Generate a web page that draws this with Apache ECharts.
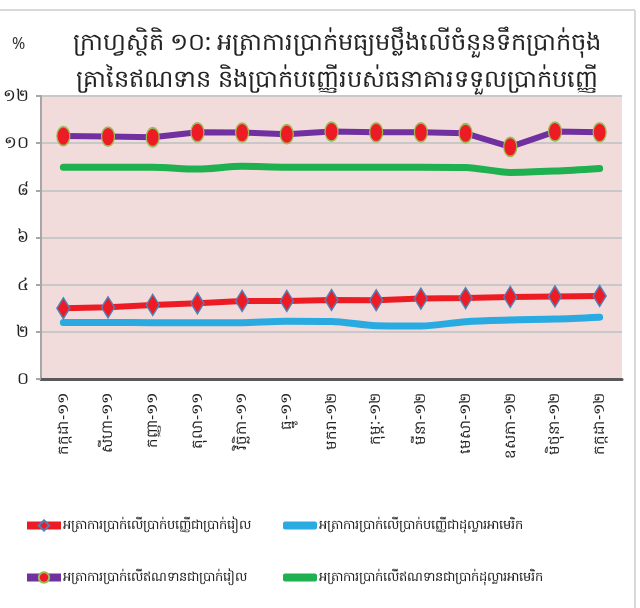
<!DOCTYPE html>
<html><head><meta charset="utf-8">
<script src="https://cdn.jsdelivr.net/npm/echarts@6/dist/echarts.min.js"></script>
<style>html,body{margin:0;padding:0;background:#fff}#c{width:640px;height:608px}</style>
</head><body><div id="c"></div>
<script>
const categories = ['កក្កដា-១១','សីហា-១១','កញ្ញា-១១','តុលា-១១','វិច្ឆិកា-១១','ធ្នូ-១១','មករា-១២','កុម្ភៈ-១២','មីនា-១២','មេសា-១២','ឧសភា-១២','មិថុនា-១២','កក្កដា-១២'];
const depositRiel = [3.0,3.04,3.14,3.21,3.31,3.31,3.35,3.34,3.41,3.43,3.48,3.5,3.52];
const depositUSD = [2.4,2.4,2.39,2.38,2.39,2.45,2.44,2.26,2.25,2.43,2.5,2.54,2.62];
const loanRiel = [10.3,10.28,10.25,10.46,10.45,10.38,10.49,10.46,10.46,10.42,9.84,10.49,10.46];
const loanUSD = [8.98,8.98,8.98,8.9,9.02,8.98,8.98,8.98,8.98,8.97,8.76,8.82,8.93];
const yTickLabels = {0:'០',2:'២',4:'៤',6:'៦',8:'៨',10:'១០',12:'១២'};
const seriesNames = ['អត្រាការប្រាក់លើប្រាក់បញ្ញើជាប្រាក់រៀល','អត្រាការប្រាក់លើប្រាក់បញ្ញើជាដុល្លារអាមេរិក','អត្រាការប្រាក់លើឥណទានជាប្រាក់រៀល','អត្រាការប្រាក់លើឥណទានជាប្រាក់ដុល្លារអាមេរិក'];
const titleText = 'ក្រាហ្វស្ថិតិ ១០: អត្រាការប្រាក់មធ្យមថ្លឹងលើចំនួនទឹកប្រាក់ចុង\nគ្រានៃឥណទាន និងប្រាក់បញ្ញើរបស់ធនាគារទទួលប្រាក់បញ្ញើ';

const FONT = '"Noto Sans", "DejaVu Sans", sans-serif';
const lineColors = ['#ed1c24', '#29abe2', '#7030a0', '#1fb050'];
function leg(i, left, top, marker) {
  const item = marker ? {name: seriesNames[i]} : {name: seriesNames[i], icon: 'roundRect'};
  return {data: [item], left: left, top: top, itemWidth: 34, itemHeight: marker ? 13 : 8, itemGap: 4,
    lineStyle: {width: 8, color: lineColors[i]},
    textStyle: {fontSize: 13, color: '#222', padding: [0, 0, 0, -3]}};
}
const chart = echarts.init(document.getElementById('c'));
chart.setOption({
  backgroundColor: '#fff',
  animation: false,
  textStyle: {fontFamily: FONT},
  title: {text: titleText, left: 332, top: 20, textAlign: 'center',
    textStyle: {fontSize: 24, fontWeight: 'normal', color: '#222', lineHeight: 37, fontFamily: FONT}},
  graphic: [
    {type: 'line', shape: {x1: 0, y1: 10, x2: 635, y2: 10}, style: {stroke: '#d9d9d9', lineWidth: 2}},
    {type: 'line', shape: {x1: 635, y1: 10, x2: 635, y2: 608}, style: {stroke: '#d9d9d9', lineWidth: 2}},
    {type: 'text', left: 12, top: 36, style: {text: '%', font: '16px ' + FONT, fill: '#333'}}
  ],
  grid: {left: 38, right: 18, top: 96, bottom: 229, show: true, backgroundColor: '#f2dcdb', borderWidth: 0},
  legend: [leg(0, 18, 514, true), leg(1, 278, 514, false), leg(2, 18, 566, true), leg(3, 278, 566, false)],
  xAxis: {type: 'category', data: categories, boundaryGap: true,
    axisLine: {lineStyle: {color: '#595959', width: 3}},
    axisTick: {show: false},
    axisLabel: {rotate: 90, fontSize: 15, color: '#222', margin: 14}},
  yAxis: {type: 'value', min: 0, max: 12, interval: 2,
    axisLine: {show: true, lineStyle: {color: '#a6a6a6', width: 2}},
    axisTick: {show: true, length: 5, lineStyle: {color: '#a6a6a6', width: 2}},
    splitLine: {lineStyle: {color: '#c8c8c8', width: 2}},
    axisLabel: {fontSize: 17, color: '#222', margin: 12, formatter: v => yTickLabels[v]}},
  series: [
    {name: seriesNames[0], type: 'line', data: depositRiel, symbol: 'diamond', symbolSize: [13, 21],
      lineStyle: {color: lineColors[0], width: 6}, itemStyle: {color: '#ed1c24', borderColor: '#4f81bd', borderWidth: 1.5}, z: 4},
    {name: seriesNames[1], type: 'line', data: depositUSD, symbol: 'none', smooth: 0.3,
      lineStyle: {color: lineColors[1], width: 7, cap: 'round'}, itemStyle: {color: lineColors[1]}, z: 3},
    {name: seriesNames[2], type: 'line', data: loanRiel, symbol: 'circle', symbolSize: [13, 19],
      lineStyle: {color: lineColors[2], width: 6}, itemStyle: {color: '#ed1c24', borderColor: '#9bbb59', borderWidth: 1.5}, z: 4},
    {name: seriesNames[3], type: 'line', data: loanUSD, symbol: 'none', smooth: 0.3,
      lineStyle: {color: lineColors[3], width: 7, cap: 'round'}, itemStyle: {color: lineColors[3]}, z: 3}
  ]
});
</script></body></html>
